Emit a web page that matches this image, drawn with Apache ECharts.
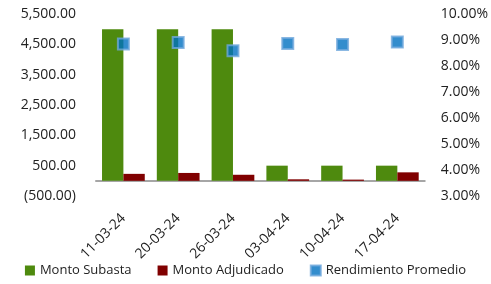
<!DOCTYPE html>
<html>
<head>
<meta charset="utf-8">
<script src="https://cdn.jsdelivr.net/npm/echarts@6/dist/echarts.min.js"></script>
<style>
  html, body { margin: 0; padding: 0; background: #fff; }
  #chart { width: 491px; height: 284px; }
</style>
</head>
<body>
<div id="chart"></div>
<script>
// datos
const fechas = ['11-03-24', '20-03-24', '26-03-24', '03-04-24', '10-04-24', '17-04-24'];
const montoSubasta = [5000, 5000, 5000, 500, 500, 500];
const montoAdjudicado = [230, 260, 200, 50, 40, 280];
const rendimientoPromedio = [8.85, 8.9, 8.59, 8.87, 8.83, 8.92];

const fuente = '"Open Sans", "Noto Sans", sans-serif';

function fmtMonto(v) {
  const s = Math.abs(v).toLocaleString('en-US', { minimumFractionDigits: 2, maximumFractionDigits: 2 });
  return v < 0 ? '(' + s + ')' : s;
}

let chart = echarts.init(document.getElementById('chart'));
chart.setOption({
  animation: false,
  grid: { left: 96, right: 64, top: 14, bottom: 88, containLabel: false },
  legend: {
    bottom: 2,
    left: 'center',
    itemWidth: 10,
    itemHeight: 10,
    itemGap: 26,
    textStyle: { fontFamily: fuente, fontSize: 13, color: '#222' },
    data: [
      { name: 'Monto Subasta', icon: 'rect' },
      { name: 'Monto Adjudicado', icon: 'rect' },
      { name: 'Rendimiento Promedio', icon: 'rect' }
    ]
  },
  xAxis: {
    type: 'category',
    data: fechas,
    axisLine: { lineStyle: { color: '#A6A6A6', width: 2 } },
    axisTick: { show: false },
    axisLabel: {
      rotate: 45,
      margin: 20,
      fontFamily: fuente,
      fontSize: 14,
      color: '#222'
    }
  },
  yAxis: [
    {
      type: 'value',
      min: -500,
      max: 5500,
      interval: 1000,
      splitLine: { show: false },
      axisLine: { show: false },
      axisLabel: {
        margin: 20,
        fontFamily: fuente,
        fontSize: 14,
        color: '#222',
        formatter: fmtMonto
      }
    },
    {
      type: 'value',
      min: 3,
      max: 10,
      interval: 1,
      splitLine: { show: false },
      axisLine: { show: false },
      axisLabel: {
        margin: 16,
        fontFamily: fuente,
        fontSize: 14,
        color: '#222',
        formatter: v => v.toFixed(2) + '%'
      }
    }
  ],
  series: [
    {
      name: 'Monto Subasta',
      type: 'bar',
      data: montoSubasta,
      barGap: '0%',
      barCategoryGap: '22%',
      itemStyle: { color: '#4E8A0E' }
    },
    {
      name: 'Monto Adjudicado',
      type: 'bar',
      data: montoAdjudicado,
      itemStyle: { color: '#800000' }
    },
    {
      name: 'Rendimiento Promedio',
      type: 'scatter',
      yAxisIndex: 1,
      data: rendimientoPromedio,
      symbol: 'rect',
      symbolSize: 11,
      itemStyle: { color: '#0070C0', borderColor: '#6FA8DC', borderWidth: 2 }
    }
  ]
});
</script>
</body>
</html>
